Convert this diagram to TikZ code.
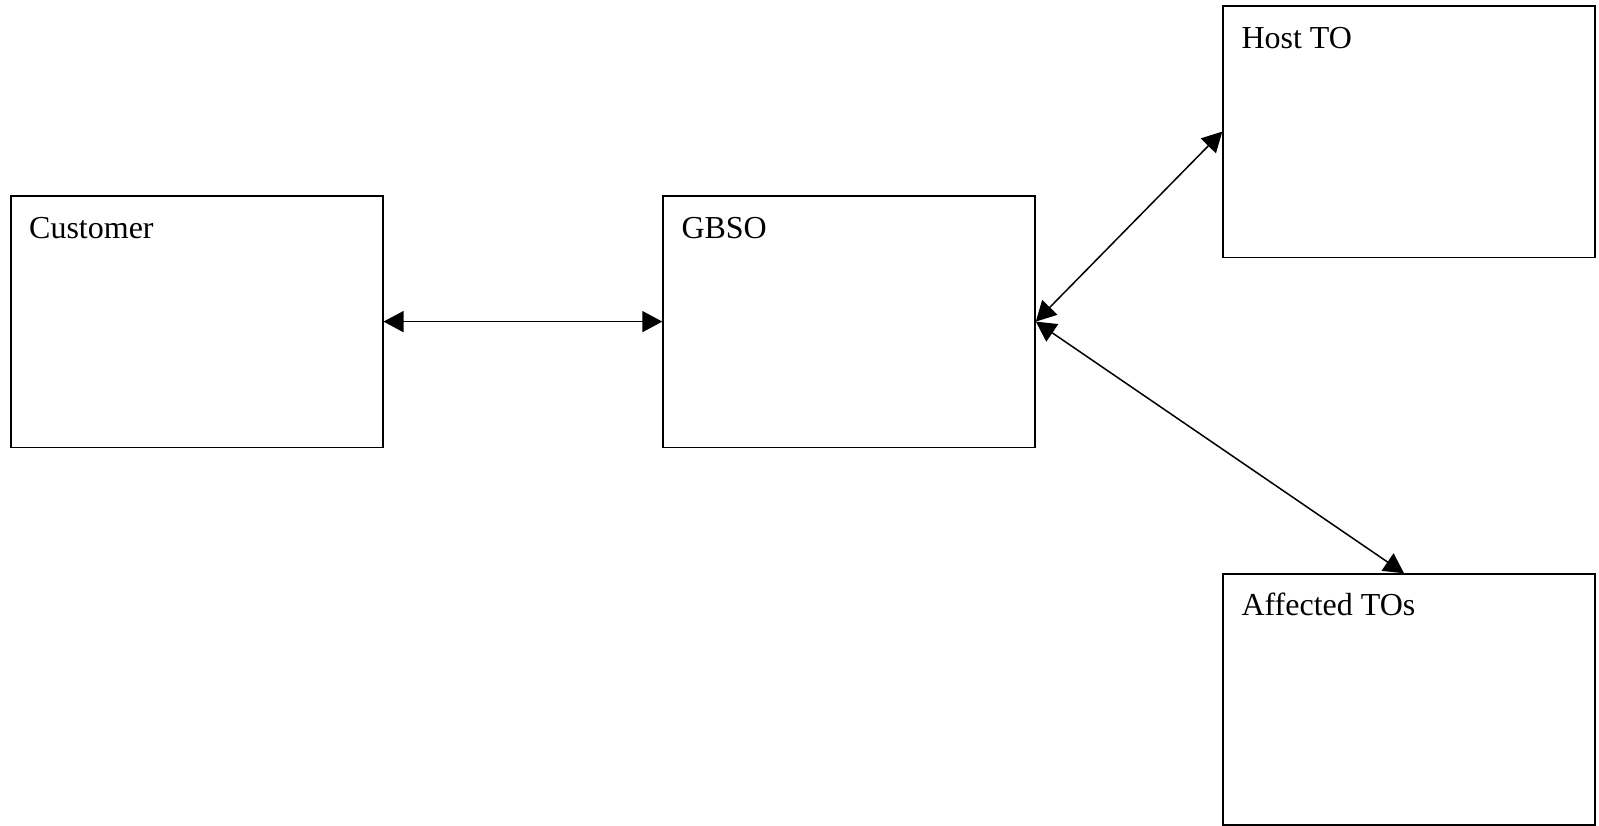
\documentclass[tikz,border=0pt]{standalone}
\usepackage{fontspec}
\setmainfont{Liberation Serif}
\usetikzlibrary{arrows.meta,calc}
\begin{document}
\begin{tikzpicture}[x=1pt,y=-1pt,
  box/.style={draw=black,line width=1.5pt,rectangle,anchor=north west,inner sep=0pt,minimum width=372pt,minimum height=251.7pt},
  lbl/.style={anchor=base west,inner sep=0pt,font=\fontsize{32}{38}\selectfont},
  conn/.style={line width=1.5pt,{Triangle[length=20pt,width=21pt]}-{Triangle[length=20pt,width=21pt]}}]
\useasboundingbox (0,0) rectangle (1599,825);
\node[box] (cust) at (10,195) {};
\node[box] (gbso) at (662.3,195) {};
\node[box] (host) at (1222.3,5) {};
\node[box,minimum height=250.7pt] (aff) at (1222.3,573.3) {};
\node[lbl] (custt) at ($(cust.north west)+(19,43)$) {Customer};
\node[lbl] (gbsot) at ($(gbso.north west)+(19,43)$) {GBSO};
\node[lbl] (hostt) at ($(host.north west)+(19,43)$) {Host TO};
\node[lbl] (afft) at ($(aff.north west)+(19,42)$) {Affected TOs};
\draw[conn] (cust.east) -- (gbso.west);
\draw[conn] (gbso.east) -- (host.west);
\draw[conn] (gbso.east) -- ($(aff.north)+(-5,0)$);
\end{tikzpicture}
\end{document}
